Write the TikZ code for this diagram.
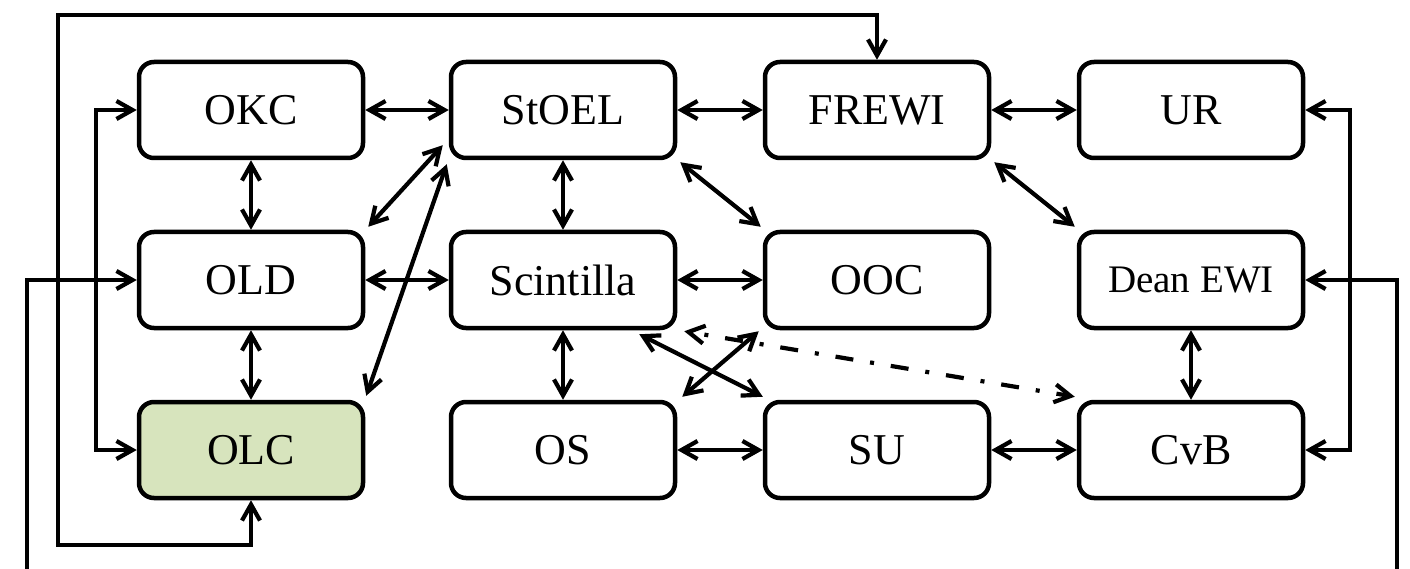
\documentclass[tikz,border=0pt]{standalone}
\usepackage{fontspec}
\setmainfont{Liberation Serif}
\usetikzlibrary{arrows.meta}
\definecolor{olcgreen}{HTML}{D7E4BD}
\tikzset{
  x=1pt, y=-1pt,
  unit/.style={draw, line width=4.5pt, rounded corners=15pt,
    minimum width=224pt, minimum height=96pt, inner sep=0pt,
    font=\fontsize{44}{50}\selectfont},
  conn/.style={line width=4.2pt, line cap=round,
    {Straight Barb[length=16pt,width=18pt]}-{Straight Barb[length=16pt,width=18pt]}},
  oneway/.style={line width=4.2pt,
    -{Straight Barb[length=16pt,width=18pt]}},
  dashdot/.style={conn, line cap=butt,
    dash pattern=on 4pt off 17pt on 18pt off 17pt, dash phase=-14pt}
}
\begin{document}
\begin{tikzpicture}
\useasboundingbox (0,0) rectangle (1410,569);

% organisational units, three rows of four
\node[unit] (OKC)   at (251,110) {OKC};
\node[unit] (StOEL) at (563,110) {StOEL};
\node[unit] (FREWI) at (877,110) {FREWI};
\node[unit] (UR)    at (1191,110) {UR};

\node[unit] (OLD)   at (251,280) {OLD};
\node[unit] (Scin)  at (563,280) {Scintilla};
\node[unit] (OOC)   at (877,280) {OOC};
\node[unit, font=\fontsize{39}{46}\selectfont] (Dean) at (1191,280) {Dean EWI};

\node[unit, fill=olcgreen] (OLC) at (251,450) {OLC};
\node[unit] (OS)    at (563,450) {OS};
\node[unit] (SU)    at (877,450) {SU};
\node[unit] (CvB)   at (1191,450) {CvB};

% routing points of the outer lines
\coordinate (topL)  at (58,15);
\coordinate (botL)  at (58,545);
\coordinate (laneA) at (96,0);
\coordinate (inL)   at (27,569);
\coordinate (laneR) at (1350,0);
\coordinate (inR)   at (1397,569);

% horizontal links
\draw[conn] (OKC)   -- (StOEL);
\draw[conn] (StOEL) -- (FREWI);
\draw[conn] (FREWI) -- (UR);
\draw[conn] (OLD)   -- (Scin);
\draw[conn] (Scin)  -- (OOC);
\draw[conn] (OS)    -- (SU);
\draw[conn] (SU)    -- (CvB);

% vertical links
\draw[conn] (OKC)   -- (OLD);
\draw[conn] (OLD)   -- (OLC);
\draw[conn] (StOEL) -- (Scin);
\draw[conn] (Scin)  -- (OS);
\draw[conn] (Dean)  -- (CvB);

% diagonal links
\draw[conn] ([shift={(-6,-15)}]StOEL.south west) -- ([shift={(3,-3)}]OLD.north east);
\draw[conn] ([shift={(-2,4)}]StOEL.south west)   -- ([shift={(1,-4)}]OLC.north east);
\draw[conn] ([shift={(3,2)}]StOEL.south east)    -- ([shift={(-2,-3)}]OOC.north west);
\draw[conn] ([shift={(3,2)}]FREWI.south east)    -- ([shift={(-2,-3)}]Dean.north west);
\draw[conn] ([shift={(-38,4)}]Scin.south east)   -- ([shift={(0,-3)}]SU.north west);
\draw[conn] ([shift={(5,-3)}]OS.north east)      -- ([shift={(-4,1)}]OOC.south west);
\draw[dashdot] ([shift={(7,1)}]Scin.south east)  -- ([shift={(-2,-3)}]CvB.north west);

% outer loops on the left
\draw[conn, line cap=butt] (OLC.south) |- (botL) -- (topL) -| (FREWI.north);
\draw[conn, line cap=butt] (OKC.west) -| (laneA |- OLD.west) |- (OLC.west);
\draw[oneway] (inL) |- (OLD.west);

% outer loops on the right
\draw[conn, line cap=butt] (UR.east) -| (laneR |- Dean.east) |- (CvB.east);
\draw[oneway] (inR) |- (Dean.east);
\end{tikzpicture}
\end{document}
